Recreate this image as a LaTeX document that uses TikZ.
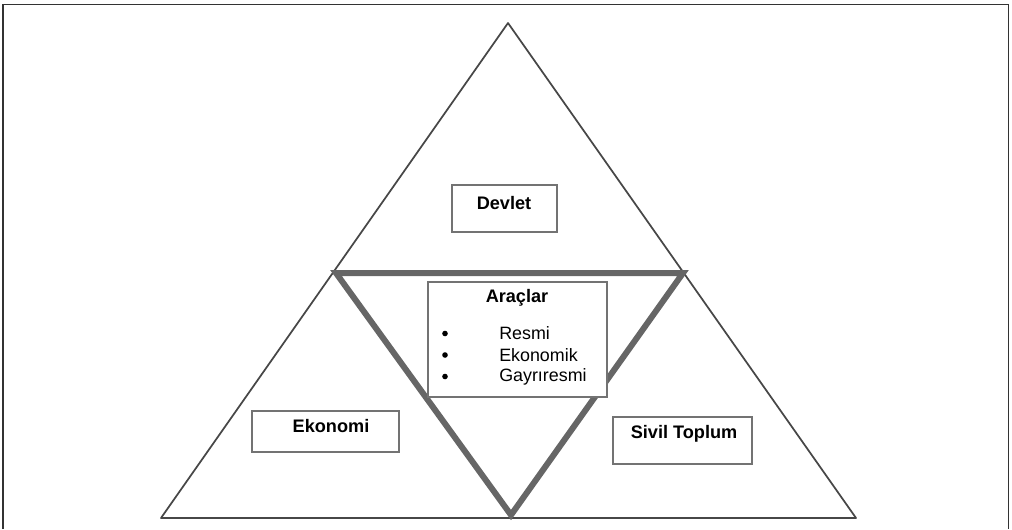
\documentclass[tikz,border=0pt]{standalone}
\usepackage{fontspec}
\setmainfont{Liberation Sans}
\usetikzlibrary{fit}
\begin{document}
\begin{tikzpicture}[x=0.75pt,y=-0.75pt,
  box/.style={draw=black!55, line width=0.8pt, inner sep=0pt, rectangle},
  lbl/.style={font=\fontsize{13.6}{15}\selectfont\bfseries, inner sep=0pt},
  item/.style={font=\fontsize{13.4}{15}\selectfont, inner sep=0pt, anchor=west},
  dot/.style={circle, fill=black, inner sep=0pt, minimum size=4.2pt}]
\useasboundingbox (0,0) rectangle (1012,529);
% frame
\coordinate (fbl) at (3,529);
\coordinate (ftl) at (3,4.5);
\coordinate (ftr) at (1008.5,4.5);
\coordinate (fbr) at (1008.5,529);
\draw[black!80, line width=1.2pt] (fbl) -- (ftl) -- (ftr) -- (fbr);
% outer triangle
\coordinate (A) at (508,23);
\coordinate (B) at (161,518);
\coordinate (C) at (856,518);
\draw[black!72, line width=1.3pt, line join=round] (B) -- (A) -- (C) -- cycle;
% inner triangle
\coordinate (P) at (336,273);
\coordinate (Q) at (683,273);
\coordinate (R) at (511,515);
\draw[black!60, line width=4.5pt, line join=miter] (P) -- (Q) -- (R) -- cycle;
% boxes
\node[box, fill=white, fit={(452,185)(557,232)}] (devletbox) {};
\node[lbl] (devlet) at (504,203) {Devlet};
\node[box, fill=white, fit={(428,282)(607,397)}] (araclarbox) {};
\node[lbl] (araclar) at (517,298) {Araçlar};
\node[dot] (d1) at (445,333.5) {};
\node[dot] (d2) at (445,355) {};
\node[dot] (d3) at (445,376.5) {};
\node[item] (i1) at (499,333.5) {Resmi};
\node[item] (i2) at (499,355) {Ekonomik};
\node[item] (i3) at (499,376.5) {Gayrıresmi};
\node[box, fill=white, fit={(252,411)(399,452)}] (ekonomibox) {};
\node[lbl] (ekonomi) at (331,426) {Ekonomi};
\node[box, fill=white, fit={(613,417)(752,464)}] (sivilbox) {};
\node[lbl] (sivil) at (684,434) {Sivil Toplum};
\end{tikzpicture}
\end{document}
